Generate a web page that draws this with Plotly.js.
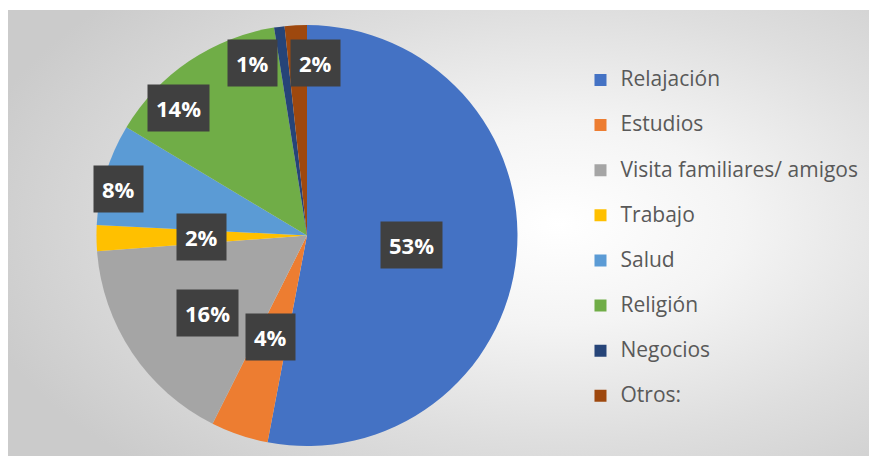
<!DOCTYPE html>
<html>
<head>
<meta charset="utf-8">
<script src="https://cdn.plot.ly/plotly-3.0.1.min.js"></script>
<style>
  html, body { margin: 0; padding: 0; background: #ffffff; }
  #wrap { position: relative; width: 869px; height: 456px; }
  #bg {
    position: absolute; left: 8px; top: 10px; width: 861px; height: 446px;
    background: radial-gradient(ellipse 70% 75% at 64% 48%, #ffffff 0%, #f4f4f4 30%, #dedede 65%, #cbcbcb 100%);
  }
  #chart { position: absolute; left: 0; top: 0; width: 869px; height: 456px; }
</style>
</head>
<body>
<div id="wrap">
  <div id="bg"></div>
  <div id="chart"></div>
</div>
<script>
// Motivo del viaje (share of answers)
const categories = ['Relajación', 'Estudios', 'Visita familiares/ amigos', 'Trabajo', 'Salud', 'Religión', 'Negocios', 'Otros:'];
const shares = [53.0, 4.4, 16.4, 2.0, 7.8, 13.9, 0.8, 1.7];
const colors = ['#4472C4', '#ED7D31', '#A5A5A5', '#FFC000', '#5B9BD5', '#70AD47', '#264478', '#9E480E'];

// where each data label sits: fraction of radius and a small angle nudge (degrees)
const labelRadius = [0.50, 0.51, 0.60, 0.50, 0.92, 0.86, 0.86, 0.82];
const labelShift = [0, 1, -4, 0, -3, -11, -10, 6];

const W = 869, H = 456;
const pieDomain = { x: [0.1110, 0.5955], y: [0.0219, 0.9452] };

// pie centre and radius in pixels, from the domain
const cx = (pieDomain.x[0] + pieDomain.x[1]) / 2 * W;
const cy = (1 - (pieDomain.y[0] + pieDomain.y[1]) / 2) * H;
const R = Math.min((pieDomain.x[1] - pieDomain.x[0]) * W, (pieDomain.y[1] - pieDomain.y[0]) * H) / 2;

const total = shares.reduce((a, b) => a + b, 0);
let cum = 0;
const annotations = shares.map((v, i) => {
    const mid = (cum + v / 2) / total * 360 + labelShift[i];
    cum += v;
    const a = mid * Math.PI / 180;
    const px = cx + labelRadius[i] * R * Math.sin(a);
    const py = cy - labelRadius[i] * R * Math.cos(a);
    return {
        x: px / W, y: 1 - py / H, xref: 'paper', yref: 'paper',
        xanchor: 'center', yanchor: 'middle',
        text: Math.round(v / total * 100) + '%',
        showarrow: false,
        font: { family: 'Open Sans', size: 22, color: '#ffffff', weight: 'bold' },
        bgcolor: '#404040',
        borderpad: 8
    };
});

// legend rows are spaced wide, so each entry carries an empty second line
const legendLabels = categories.map(c => '<span style="font-size:21px">' + c + '</span><br> ');

const trace = {
    type: 'pie',
    labels: legendLabels,
    values: shares,
    sort: false,
    direction: 'clockwise',
    rotation: 0,
    textinfo: 'none',
    hoverinfo: 'percent',
    marker: { colors: colors, line: { width: 0 } },
    domain: pieDomain
};

const layout = {
    width: W,
    height: H,
    margin: { l: 0, r: 0, t: 0, b: 0 },
    paper_bgcolor: 'rgba(0,0,0,0)',
    plot_bgcolor: 'rgba(0,0,0,0)',
    showlegend: true,
    legend: {
        x: 0.668, y: 0.862, xanchor: 'left', yanchor: 'top',
        valign: 'top',
        font: { family: 'Open Sans', size: 16.2, color: '#595959' },
        bgcolor: 'rgba(0,0,0,0)'
    },
    annotations: annotations
};

Plotly.newPlot('chart', [trace], layout, { displayModeBar: false, staticPlot: true });
</script>
</body>
</html>
